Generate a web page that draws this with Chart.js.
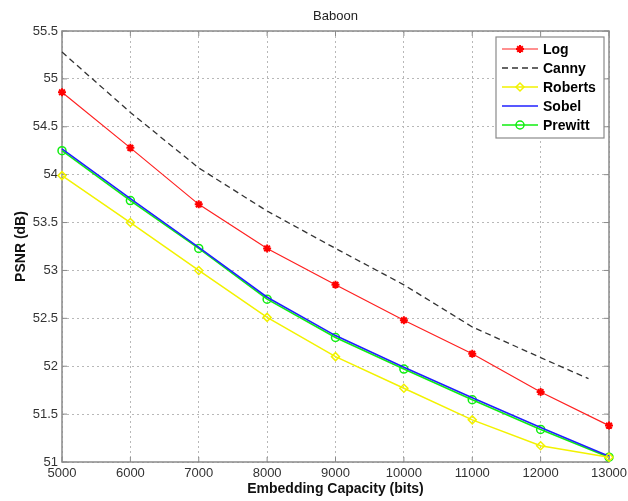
<!DOCTYPE html>
<html>
<head>
<meta charset="utf-8">
<title>Baboon</title>
<script src="https://cdn.jsdelivr.net/npm/chart.js@4"></script>
<style>
    html, body { margin: 0; padding: 0; background: #fff; }
    #chart { display: block; }
</style>
</head>
<body>
<canvas id="chart" width="628" height="501"></canvas>
<script>
// Valores
const capacity = [5000, 6000, 7000, 8000, 9000, 10000, 11000, 12000, 13000];
const cannyCapacity = [5000, 6000, 7000, 8000, 9000, 10000, 11000, 12000, 12700];
const logPsnr = [54.86, 54.28, 53.69, 53.23, 52.85, 52.48, 52.13, 51.73, 51.38];
const cannyPsnr = [55.28, 54.65, 54.07, 53.62, 53.23, 52.85, 52.41, 52.09, 51.87];
const robertsPsnr = [53.99, 53.50, 53.00, 52.51, 52.10, 51.77, 51.44, 51.17, 51.05];
const sobelPsnr = [54.27, 53.75, 53.24, 52.72, 52.32, 51.99, 51.67, 51.36, 51.06];
const prewittPsnr = [54.25, 53.73, 53.23, 52.70, 52.30, 51.97, 51.65, 51.34, 51.05];
const xTicks = [5000, 6000, 7000, 8000, 9000, 10000, 11000, 12000, 13000];
const yTicks = [51, 51.5, 52, 52.5, 53, 53.5, 54, 54.5, 55, 55.5];

const FONT = '"Liberation Sans", Arial, sans-serif';

function pontos(xs, ys) {
    return ys.map((y, i) => ({ x: xs[i], y: y }));
}

// Moldura, marcas internas, título e legenda no estilo MATLAB
const molduraPlugin = {
    id: 'moldura',
    beforeDatasetsDraw(chart) {
        const { ctx, chartArea: a, scales } = chart;
        ctx.save();
        ctx.strokeStyle = '#8a8a8a';
        ctx.lineWidth = 1.5;
        ctx.strokeRect(a.left, a.top, a.right - a.left, a.bottom - a.top);

        // marcas internas
        ctx.lineWidth = 1;
        xTicks.forEach(v => {
            const px = scales.x.getPixelForValue(v);
            ctx.beginPath();
            ctx.moveTo(px, a.bottom); ctx.lineTo(px, a.bottom - 5);
            ctx.moveTo(px, a.top); ctx.lineTo(px, a.top + 5);
            ctx.stroke();
        });
        yTicks.forEach(v => {
            const py = scales.y.getPixelForValue(v);
            ctx.beginPath();
            ctx.moveTo(a.left, py); ctx.lineTo(a.left + 5, py);
            ctx.moveTo(a.right, py); ctx.lineTo(a.right - 5, py);
            ctx.stroke();
        });
        ctx.restore();
    },
    afterDraw(chart) {
        const { ctx, chartArea: a } = chart;
        ctx.save();

        // título
        ctx.fillStyle = '#222';
        ctx.font = '13px ' + FONT;
        ctx.textAlign = 'center';
        ctx.textBaseline = 'middle';
        ctx.fillText('Baboon', (a.left + a.right) / 2, a.top - 15);

        // legenda
        const bx = a.right - 113, by = a.top + 6, bw = 108, bh = 101;
        ctx.fillStyle = '#fff';
        ctx.fillRect(bx, by, bw, bh);
        ctx.strokeStyle = '#8a8a8a';
        ctx.lineWidth = 1.2;
        ctx.strokeRect(bx, by, bw, bh);

        chart.data.datasets.forEach((ds, i) => {
            const y = by + 12 + i * 19;
            ctx.save();
            ctx.strokeStyle = ds.borderColor;
            ctx.lineWidth = ds.borderWidth;
            ctx.setLineDash(ds.borderDash || []);
            ctx.beginPath();
            ctx.moveTo(bx + 6, y);
            ctx.lineTo(bx + 42, y);
            ctx.stroke();
            ctx.restore();
            if (ds.pointRadius > 0) {
                ctx.save();
                ctx.strokeStyle = ds.pointBorderColor || ds.borderColor;
                ctx.fillStyle = ds.pointBackgroundColor || 'rgba(0,0,0,0)';
                ctx.lineWidth = ds.pointBorderWidth || 1;
                Chart.helpers.drawPoint(ctx, {
                    pointStyle: ds.pointStyle,
                    radius: ds.pointRadius,
                    rotation: 0,
                    borderWidth: ds.pointBorderWidth || 1
                }, bx + 24, y);
                ctx.restore();
            }
            ctx.fillStyle = '#000';
            ctx.font = 'bold 14px ' + FONT;
            ctx.textAlign = 'left';
            ctx.fillText(ds.label, bx + 47, y + 1);
        });
        ctx.restore();
    }
};

new Chart(document.getElementById('chart'), {
    type: 'line',
    data: {
        datasets: [
            {
                label: 'Log',
                data: pontos(capacity, logPsnr),
                borderColor: '#ff2020',
                borderWidth: 1.2,
                pointStyle: 'star',
                pointRadius: 4,
                pointBorderColor: '#ff0000',
                pointBorderWidth: 2,
                pointBackgroundColor: '#ff0000',
                clip: false
            },
            {
                label: 'Canny',
                data: pontos(cannyCapacity, cannyPsnr),
                borderColor: '#333333',
                borderWidth: 1.3,
                borderDash: [6, 4],
                pointRadius: 0,
                clip: false
            },
            {
                label: 'Roberts',
                data: pontos(capacity, robertsPsnr),
                borderColor: '#f2f200',
                borderWidth: 1.5,
                pointStyle: 'rectRot',
                pointRadius: 4,
                pointBorderColor: '#f2f200',
                pointBorderWidth: 1.5,
                pointBackgroundColor: 'rgba(0,0,0,0)',
                clip: false
            },
            {
                label: 'Sobel',
                data: pontos(capacity, sobelPsnr),
                borderColor: '#2020ff',
                borderWidth: 1.6,
                pointRadius: 0,
                clip: false
            },
            {
                label: 'Prewitt',
                data: pontos(capacity, prewittPsnr),
                borderColor: '#10ee10',
                borderWidth: 1.6,
                pointStyle: 'circle',
                pointRadius: 4,
                pointBorderColor: '#10ee10',
                pointBorderWidth: 1.5,
                pointBackgroundColor: 'rgba(0,0,0,0)',
                clip: false
            }
        ]
    },
    options: {
        responsive: false,
        animation: false,
        layout: { padding: { left: 8, right: 19, top: 31, bottom: 1 } },
        plugins: {
            legend: { display: false },
            title: { display: false },
            tooltip: { enabled: false }
        },
        scales: {
            x: {
                type: 'linear',
                min: 5000,
                max: 13000,
                afterBuildTicks: s => { s.ticks = xTicks.map(v => ({ value: v })); },
                afterFit: s => { s.height = 38; s.paddingLeft = 0; s.paddingRight = 0; },
                ticks: {
                    color: '#333',
                    font: { family: FONT, size: 13 },
                    padding: 4,
                    maxRotation: 0,
                    callback: v => String(v)
                },
                grid: {
                    color: '#b8b8b8',
                    lineWidth: 1,
                    drawTicks: false
                },
                border: { display: false, dash: [2, 3] },
                title: {
                    display: true,
                    text: 'Embedding Capacity (bits)',
                    color: '#111',
                    font: { family: FONT, size: 14, weight: 'bold' },
                    padding: { top: 0, bottom: 2 }
                }
            },
            y: {
                min: 51,
                max: 55.5,
                afterBuildTicks: s => { s.ticks = yTicks.map(v => ({ value: v })); },
                afterFit: s => { s.width = 54; s.paddingTop = 0; s.paddingBottom = 0; },
                ticks: {
                    color: '#333',
                    font: { family: FONT, size: 13 },
                    padding: 4,
                    callback: v => String(v)
                },
                grid: {
                    color: '#b8b8b8',
                    lineWidth: 1,
                    drawTicks: false
                },
                border: { display: false, dash: [2, 3] },
                title: {
                    display: true,
                    text: 'PSNR (dB)',
                    color: '#111',
                    font: { family: FONT, size: 14, weight: 'bold' },
                    padding: { top: 5, bottom: 0 }
                }
            }
        }
    },
    plugins: [molduraPlugin]
});
</script>
</body>
</html>
